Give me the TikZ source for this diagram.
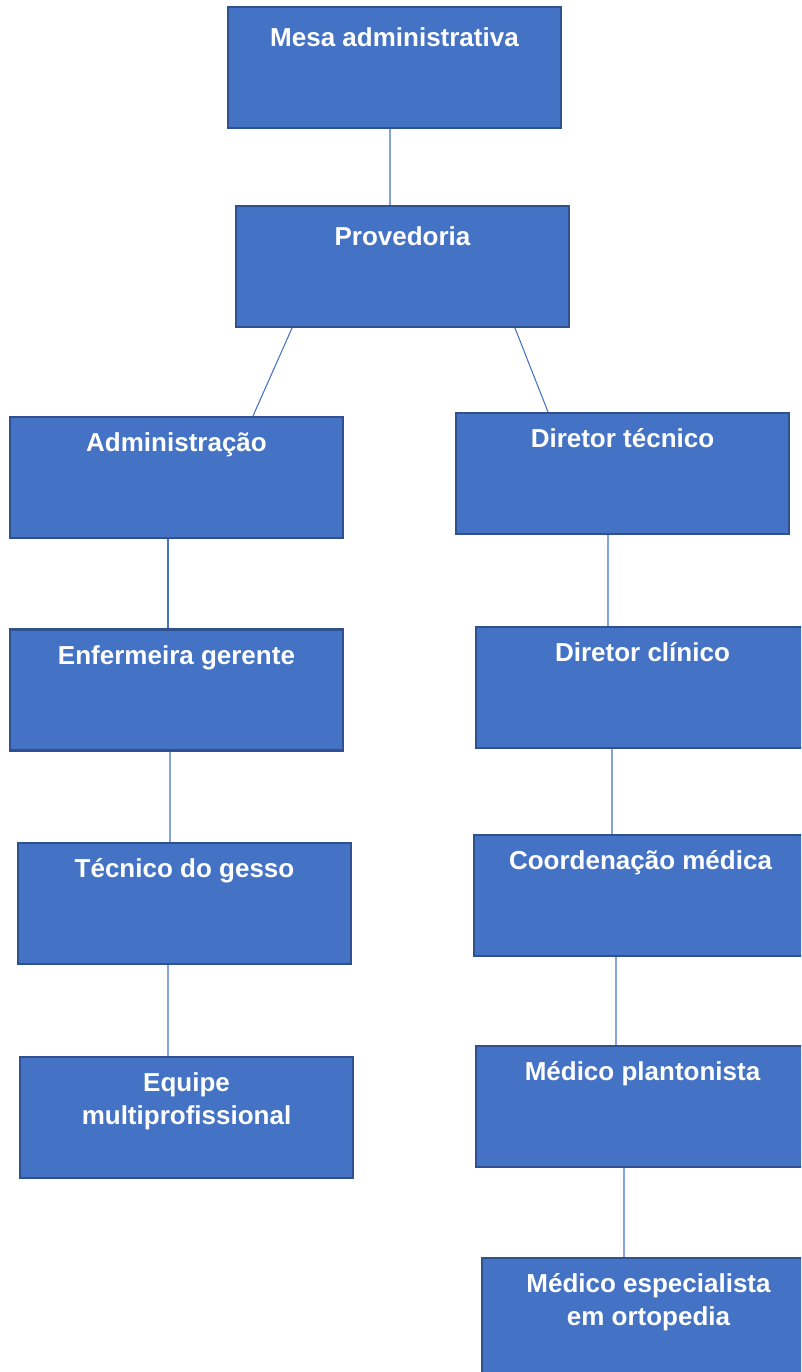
\documentclass[tikz,border=0pt]{standalone}
\usepackage{fontspec}
\setmainfont{Liberation Sans}
\usetikzlibrary{positioning}
\definecolor{boxblue}{HTML}{4472C4}
\definecolor{boxedge}{HTML}{2F528F}

\begin{document}
\begin{tikzpicture}[x=0.02cm, y=-0.02cm]
        \tikzstyle{box} = [rectangle, minimum width=6.66cm, minimum height=2.42cm, draw=boxedge, line width=1.2pt, fill=boxblue, inner sep=0pt]
        \tikzstyle{title} = [text=white, font=\fontsize{14.8}{19.3}\selectfont\bfseries, align=center, anchor=base, inner sep=0pt]
        \tikzstyle{link} = [draw=boxblue, line width=0.6pt]

        \useasboundingbox (0,0) rectangle (801,1372);
        \clip (0,0) rectangle (801,1372);

        \node (mesa) [box] at (394.5,67.5) {};
        \node (prov) [box] at (402.5,266.5) {};
        \node (admin) [box] at (176.5,477.5) {};
        \node (dtec) [box] at (622.5,473.5) {};
        \node (enf) [box] at (176.5,690) {};
        \node (dclin) [box] at (642.5,687.5) {};
        \node (gesso) [box] at (184.5,903.5) {};
        \node (coord) [box] at (640.5,895.5) {};
        \node (equipe) [box] at (186.5,1117.5) {};
        \node (plant) [box] at (642.5,1106.5) {};
        \node (espec) [box] at (648.5,1318.5) {};

        % titles sit near the top edge of each box
        \node (mesa-t) [title] at ([yshift=-0.82cm]mesa.north) {Mesa administrativa};
        \node (prov-t) [title] at ([yshift=-0.82cm]prov.north) {Provedoria};
        \node (admin-t) [title] at ([yshift=-0.72cm]admin.north) {Administração};
        \node (dtec-t) [title] at ([yshift=-0.72cm]dtec.north) {Diretor técnico};
        \node (enf-t) [title] at ([yshift=-0.72cm]enf.north) {Enfermeira gerente};
        \node (dclin-t) [title] at ([yshift=-0.72cm]dclin.north) {Diretor clínico};
        \node (gesso-t) [title] at ([yshift=-0.72cm]gesso.north) {Técnico do gesso};
        \node (coord-t) [title] at ([yshift=-0.72cm]coord.north) {Coordenação médica};
        \node (equipe-t) [title] at ([yshift=-1.38cm]equipe.north) {Equipe\\multiprofissional};
        \node (plant-t) [title] at ([yshift=-0.72cm]plant.north) {Médico plantonista};
        \node (espec-t) [title] at ([yshift=-1.38cm]espec.north) {Médico especialista\\em ortopedia};

        \draw [link] ([xshift=-0.09cm]mesa.south) -- ([xshift=-0.25cm]prov.north);
        \draw [link] ([xshift=-2.21cm]prov.south) -- ([xshift=1.53cm]admin.north);
        \draw [link] ([xshift=2.25cm]prov.south) -- ([xshift=-1.49cm]dtec.north);
        \draw [link] ([xshift=-0.17cm]admin.south) -- ([xshift=-0.17cm]enf.north);
        \draw [link] ([xshift=-0.13cm]enf.south) -- ([xshift=-0.29cm]gesso.north);
        \draw [link] ([xshift=-0.33cm]gesso.south) -- ([xshift=-0.37cm]equipe.north);
        \draw [link] ([xshift=-0.29cm]dtec.south) -- ([xshift=-0.69cm]dclin.north);
        \draw [link] ([xshift=-0.61cm]dclin.south) -- ([xshift=-0.57cm]coord.north);
        \draw [link] ([xshift=-0.49cm]coord.south) -- ([xshift=-0.53cm]plant.north);
        \draw [link] ([xshift=-0.37cm]plant.south) -- ([xshift=-0.49cm]espec.north);
    \end{tikzpicture}
\end{document}
